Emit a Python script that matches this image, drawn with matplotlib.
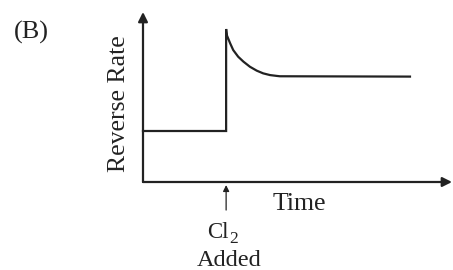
import matplotlib
matplotlib.use("Agg")
import matplotlib.pyplot as plt

# data (arbitrary units)
time = [0.0, 2.69, 2.69, 2.71, 2.82, 2.92, 3.08, 3.25, 3.46, 3.68, 3.89, 4.11, 4.33, 4.43, 8.64]
rate = [3.0, 3.0, 9.0, 8.65, 8.16, 7.76, 7.37, 7.08, 6.78, 6.55, 6.39, 6.29, 6.24, 6.22, 6.2]
cl2_time = 2.69
x_label = "Time"
y_label = "Reverse Rate"
event_label = ["Cl", "2", "Added"]
panel_label = "(B)"

plt.rcParams["font.family"] = ["Liberation Serif", "DejaVu Serif"]

W, H = 453, 270
fig = plt.figure(figsize=(W / 100, H / 100), dpi=100)
ax = fig.add_axes([143 / W, (H - 182) / H, 309 / W, 170 / H])
ax.set_xlim(0, 10)
ax.set_ylim(0, 10)
ax.axis("off")

ink = "#222222"
ax.plot(time, rate, color=ink, lw=1.6, solid_joinstyle="miter", clip_on=False)

# axes with arrowheads
ax.annotate("", xy=(1, 0), xytext=(0, 0), xycoords="axes fraction",
            arrowprops=dict(arrowstyle="-|>", lw=1.6, color=ink, mutation_scale=14,
                            shrinkA=0, shrinkB=0))
ax.annotate("", xy=(0, 1), xytext=(0, 0), xycoords="axes fraction",
            arrowprops=dict(arrowstyle="-|>", lw=1.6, color=ink, mutation_scale=14,
                            shrinkA=0, shrinkB=0))

# event arrow
ax.annotate("", xy=(cl2_time, -0.18), xytext=(cl2_time, -1.65), xycoords="data",
            arrowprops=dict(arrowstyle="-|>", lw=0.9, color=ink, mutation_scale=9,
                            shrinkA=0, shrinkB=0), annotation_clip=False)
ax.text(cl2_time + 0.075, -3.29, event_label[0], ha="right", va="baseline", fontsize=16.5,
        color=ink, clip_on=False)
ax.text(cl2_time + 0.1, -3.58, event_label[1], ha="left", va="baseline", fontsize=12.5,
        color=ink, clip_on=False)
ax.text(cl2_time + 0.09, -4.95, event_label[2], ha="center", va="baseline", fontsize=17.5,
        color=ink, clip_on=False)

ax.text(5.06, -1.65, x_label, ha="center", va="baseline", fontsize=18.5, color=ink)
ax.text(-0.78, 4.6, y_label, ha="center", va="center", rotation=90, fontsize=18.5,
        color=ink)

fig.text(31 / W, 1 - 32 / H, panel_label, ha="center", va="center", fontsize=19,
         color=ink)

fig.savefig("out.png", dpi=100, facecolor="white")
